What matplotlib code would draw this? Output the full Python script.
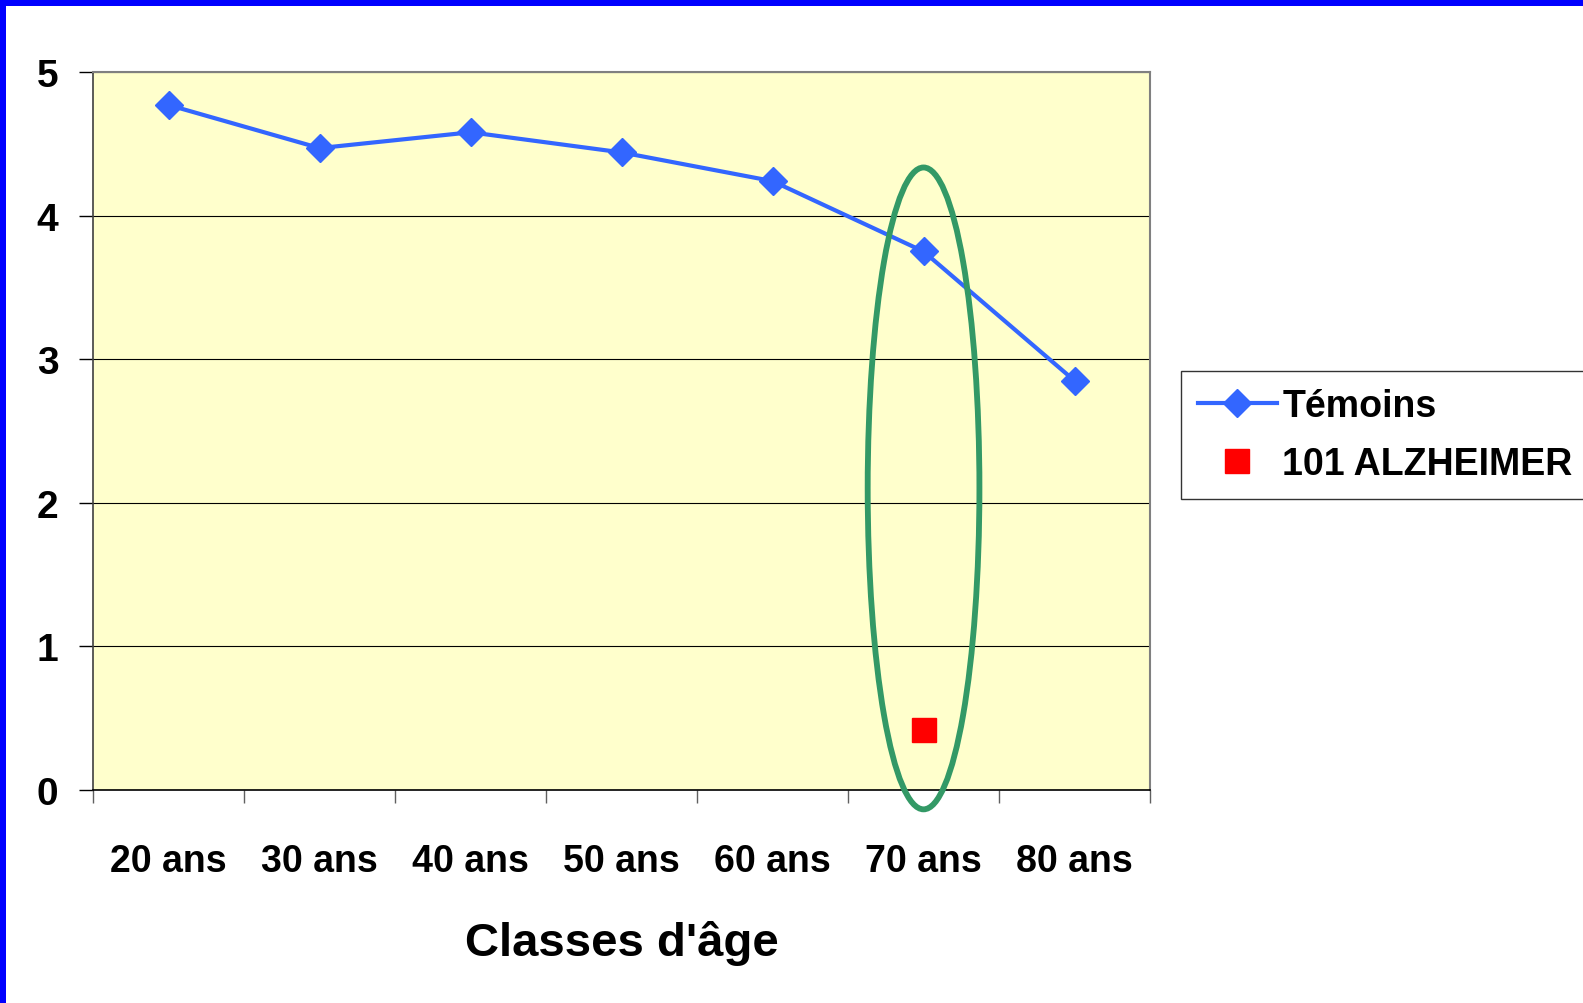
import numpy as np
import matplotlib
matplotlib.use("Agg")
import matplotlib.pyplot as plt
from matplotlib.patches import Ellipse, Rectangle

plt.rcParams['font.family'] = ['Liberation Sans', 'DejaVu Sans']
plt.rcParams['font.weight'] = 'bold'

# Données
classes = ["20 ans", "30 ans", "40 ans", "50 ans", "60 ans", "70 ans", "80 ans"]
temoins = [4.77, 4.47, 4.58, 4.44, 4.24, 3.75, 2.85]
alz_classe = "70 ans"
alz_valeur = 0.42
ellipse_centre_y = 2.10
ellipse_hauteur = 4.47
ellipse_largeur = 0.74

x = np.arange(len(classes))
x_alz = classes.index(alz_classe)

fig = plt.figure(figsize=(15.83, 10.04), dpi=100)
ax = fig.add_axes([0.0588, 0.2122, 0.6677, 0.7151])
ax.set_facecolor('#FFFFCC')

# cadre bleu de la diapo
fig.patches.append(Rectangle((0, 1 - 7 / 1004), 1, 7 / 1004, transform=fig.transFigure,
                             facecolor='#0000FF', edgecolor='none'))
fig.patches.append(Rectangle((0, 0), 6 / 1583, 1, transform=fig.transFigure,
                             facecolor='#0000FF', edgecolor='none'))

ax.plot(x, temoins, color='#3366FF', linewidth=3, marker='D', markersize=14.5,
        markeredgewidth=1, markeredgecolor='#3366FF', label="Témoins", zorder=3)
ax.plot([x_alz], [alz_valeur], linestyle='none', marker='s', markersize=17,
        color='#FF0000', label="101 ALZHEIMER", zorder=3)

ax.add_patch(Ellipse((x_alz, ellipse_centre_y), ellipse_largeur, ellipse_hauteur,
                     fill=False, edgecolor='#339966', linewidth=4.2, zorder=4, clip_on=False))

ax.set_xlim(-0.5, len(classes) - 0.5)
ax.set_ylim(0, 5)

# grille horizontale
ax.set_yticks(range(6))
ax.yaxis.grid(True, color='black', linewidth=0.8)
ax.set_axisbelow(True)

ax.set_xticks(x)
ax.set_xticklabels(classes)
ax.set_xticks(np.arange(-0.5, len(classes)), minor=True)
ax.tick_params(axis='x', which='major', length=0, pad=38, labelsize=27)
ax.tick_params(axis='x', which='minor', length=9.5, width=1, color='#606060', direction='out')
ax.tick_params(axis='y', length=10, width=1, color='black', direction='out', pad=15, labelsize=28)

for s in ['top', 'right']:
    ax.spines[s].set_color('#808080')
    ax.spines[s].set_linewidth(1.5)
ax.spines['left'].set_color('#404040')
ax.spines['bottom'].set_color('black')
ax.spines['left'].set_linewidth(1.2)
ax.spines['bottom'].set_linewidth(1.2)

ax.set_xlabel("Classes d'âge", fontsize=34, fontweight='bold', labelpad=30)

leg = fig.legend(loc='upper left', bbox_to_anchor=(1181 / 1583, 1 - 372 / 1004),
                 fontsize=27, frameon=True, fancybox=False, edgecolor='black',
                 borderpad=0.45, handlelength=2.1, handletextpad=0.15, labelspacing=0.6,
                 borderaxespad=0)
leg.get_frame().set_linewidth(1)
leg._legend_box.sep = 0

fig.savefig("out.png", dpi=100)
